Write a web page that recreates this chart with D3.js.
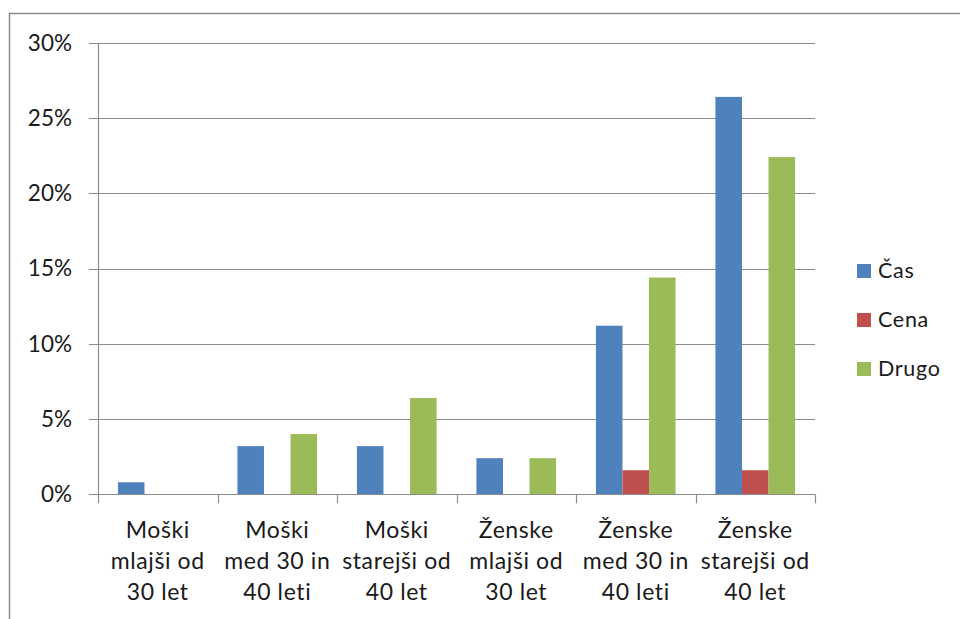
<!DOCTYPE html>
<html>
<head>
<meta charset="utf-8">
<script src="https://cdn.jsdelivr.net/npm/d3@7"></script>
<style>
  html, body { margin: 0; padding: 0; background: #fff; }
  svg { display: block; }
  text { font-family: Lato, "Open Sans", sans-serif; fill: #1a1a1a; }
</style>
</head>
<body>
<svg id="chart" width="960" height="619"></svg>
<script>
const categories = [
  ["Moški", "mlajši od", "30 let"],
  ["Moški", "med 30 in", "40 leti"],
  ["Moški", "starejši od", "40 let"],
  ["Ženske", "mlajši od", "30 let"],
  ["Ženske", "med 30 in", "40 leti"],
  ["Ženske", "starejši od", "40 let"]
];
const seriesNames = ["Čas", "Cena", "Drugo"];
const cas   = [0.008, 0.032, 0.032, 0.024, 0.112, 0.264];
const cena  = [0.000, 0.000, 0.000, 0.000, 0.016, 0.016];
const drugo = [0.000, 0.040, 0.064, 0.024, 0.144, 0.224];
const yTicks = [0, 0.05, 0.10, 0.15, 0.20, 0.25, 0.30];
const colors = ["#4F81BD", "#C0504D", "#9BBB59"];

const seriesValues = [cas, cena, drugo];
const svg = d3.select("#chart");
const grey = "#8c8c8c";

// chart frame
svg.append("line").attr("x1", 9.5).attr("x2", 9.5).attr("y1", 13).attr("y2", 619)
  .attr("stroke", grey).attr("stroke-width", 1.5);
svg.append("line").attr("x1", 9).attr("x2", 960).attr("y1", 13.5).attr("y2", 13.5)
  .attr("stroke", grey).attr("stroke-width", 1.5);

const pLeft = 98, pRight = 815, pTop = 42.7, pBottom = 494.3;

const x = d3.scaleBand().domain(d3.range(categories.length)).range([pLeft, pRight]).paddingInner(0).paddingOuter(0);
const y = d3.scaleLinear().domain([0, 0.30]).range([pBottom, pTop]);
// gap width 150%: group of 3 bars + 1.5 bar gap
const barW = x.bandwidth() / 4.5;
const offset = barW * 0.75;

// gridlines
const g = svg.append("g");
g.selectAll("line.grid").data(yTicks).join("line")
  .attr("x1", pLeft - 9).attr("x2", pRight)
  .attr("y1", d => Math.round(y(d)) + 0.5).attr("y2", d => Math.round(y(d)) + 0.5)
  .attr("stroke", grey).attr("stroke-width", 1.2);

// y axis line
g.append("line").attr("x1", pLeft + 0.5).attr("x2", pLeft + 0.5)
  .attr("y1", y(0.30)).attr("y2", pBottom + 9).attr("stroke", grey).attr("stroke-width", 1.2);

// x ticks
const tickPos = d3.range(categories.length + 1).map(i => i === categories.length ? pRight : x(i));
g.selectAll("line.xt").data(tickPos.slice(1)).join("line")
  .attr("x1", d => Math.round(d) + 0.5).attr("x2", d => Math.round(d) + 0.5)
  .attr("y1", pBottom).attr("y2", pBottom + 9)
  .attr("stroke", grey).attr("stroke-width", 1.2);

// y labels
g.selectAll("text.yl").data(yTicks).join("text")
  .attr("x", 72).attr("y", d => y(d) + 7.8)
  .attr("text-anchor", "end").attr("font-size", 22.5)
  .text(d3.format(".0%"));

// bars
seriesValues.forEach((vals, si) => {
  svg.append("g").selectAll("rect").data(vals).join("rect")
    .attr("x", (d, i) => x(i) + offset + si * barW)
    .attr("width", barW)
    .attr("y", d => y(d))
    .attr("height", d => y(0) - y(d))
    .attr("fill", colors[si]);
});

// redraw baseline over bars
svg.append("line").attr("x1", pLeft).attr("x2", pRight)
  .attr("y1", Math.round(y(0)) + 0.5).attr("y2", Math.round(y(0)) + 0.5)
  .attr("stroke", grey).attr("stroke-width", 1.2);

// category labels
const cl = svg.append("g");
categories.forEach((lines, i) => {
  const t = cl.append("text").attr("text-anchor", "middle").attr("font-size", 23)
    .attr("letter-spacing", 0.6);
  lines.forEach((ln, k) => {
    t.append("tspan").attr("x", x(i) + x.bandwidth() / 2).attr("y", 537.8 + k * 31.2).text(ln);
  });
});

// legend
const lg = svg.append("g");
seriesNames.forEach((name, i) => {
  const yy = 264 + i * 49;
  lg.append("rect").attr("x", 857).attr("y", yy).attr("width", 14).attr("height", 14).attr("fill", colors[i]);
  lg.append("text").attr("x", 878).attr("y", yy + 14.3).attr("font-size", 21.5)
    .attr("letter-spacing", 0.7).text(name);
});
</script>
</body>
</html>
